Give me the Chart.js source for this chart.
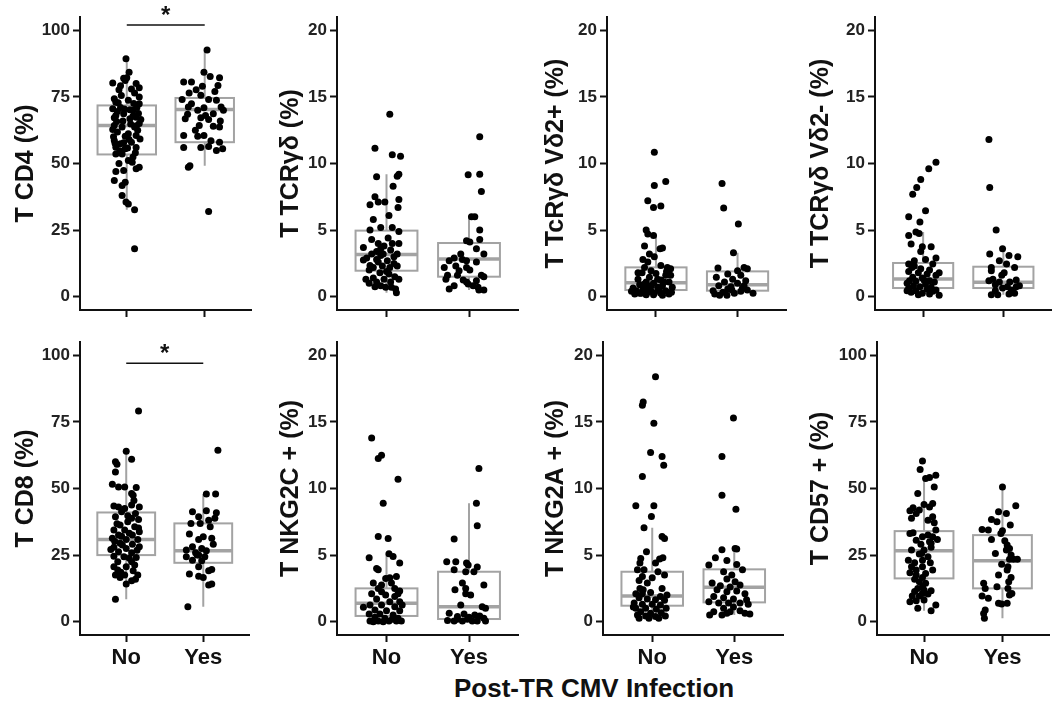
<!DOCTYPE html>
<html>
<head>
<meta charset="utf-8">
<script src="https://cdn.jsdelivr.net/npm/chart.js@4.4.0/dist/chart.umd.min.js"></script>
<style>
  body { margin: 0; background: #fff; width: 1057px; height: 703px; position: relative; overflow: hidden; font-family: "Liberation Sans", Arial, sans-serif; }
  canvas { position: absolute; }
  #x-title { position: absolute; left: 454px; top: 673px; font-weight: bold; font-size: 26px; color: #111; white-space: nowrap; }
</style>
</head>
<body>
<div id="x-title">Post-TR CMV Infection</div>
<script>
// 🔹 categories / ticks
const groups = ["No", "Yes"];
const ticks100 = [0, 25, 50, 75, 100];
const ticks20 = [0, 5, 10, 15, 20];

// 🔹 points: [jitter, value]
const cd4No = [[-0.01,89.3],[0.03,84.3],[-0.18,80.2],[-0.04,82],[0,82.2],[-0.02,81.2],[0.12,80],[0.16,78.4],[-0.10,77.7],[0.06,78],
  [-0.16,74.3],[0.16,75],[-0.14,73],[0.02,73.7],[0.16,72.4],[-0.18,70.6],[-0.08,71],[0.08,70],[-0.14,68],[-0.04,68.7],
  [0.12,67.4],[0.04,66.8],[-0.16,64.3],[-0.06,63.7],[0.10,63.7],[0.16,65],[-0.12,61.8],[0.02,61.2],[0.12,60.5],[-0.16,58.6],
  [-0.08,57.4],[0.06,58],[-0.14,56.1],[-0.02,55.5],[0.12,56],[-0.14,53.6],[-0.06,53.6],[0.08,52.4],[0.02,51.1],[0.16,48.6],
  [0.12,48],[-0.04,47.4],[-0.14,47],[-0.16,43.6],[-0.02,43],[-0.06,41.7],[-0.06,38],[-0.01,35.5],[0.02,34.8],[0.10,32.6],
  [0.10,18],[-0.12,69.5],[0.09,72.5],[-0.05,66],[0.14,62.5],[-0.17,60],[0.03,59],[-0.09,54.8],[0.11,54],[-0.03,70.5],
  [0.05,64.8],[-0.13,65.8],[0.15,68.8],[-0.07,75.5],[0.10,76.5],[-0.15,57.5],[0.07,50.5],[-0.10,50],[0.13,71],[-0.02,60.2],
  [0.08,67.8],[-0.18,62.8],[0.17,59.2],[-0.04,57.8],[0.12,64.2],[-0.08,79.2],[0.04,70.2],[-0.11,72.8],[0.01,55.8],[0.18,66.5],[-0.16,67.2]];
const cd4Yes = [[0.03,92.6],[-0.01,84.3],[0.07,82.7],[0.19,82.2],[-0.27,80.6],[-0.17,80.6],[-0.11,77.7],[0.17,79.3],[-0.05,75.6],[-0.29,74],
  [0.05,74],[-0.17,72.4],[0.15,73.7],[-0.21,71.2],[-0.01,70.9],[-0.09,70],[0.21,71.2],[0.11,68.7],[0.01,68],[-0.05,67.2],
  [-0.25,66.8],[0.05,66.5],[-0.07,64.3],[0.11,64],[0.19,63.7],[-0.27,60.5],[-0.09,60.2],[-0.01,60.5],[-0.27,56],[-0.05,56],
  [0.05,56.4],[0.15,54.9],[0.23,55.5],[0.19,58],[-0.21,48.6],[-0.19,49.2],[0.05,32],[-0.20,76.5],[0.13,77],[0.24,70],
  [-0.12,62.5],[0.08,58.5],[-0.22,68.5],[0.20,66],[-0.03,79]];

const tcrNo = [[0.04,13.7],[-0.14,11.15],[0.07,10.65],[0.17,10.55],[-0.12,9.0],[0.13,9.05],[0.15,9.2],[0.08,8.3],[-0.14,7.5],[0.15,7.3],
  [-0.20,6.9],[-0.10,7.1],[-0.02,7.1],[0.14,6.7],[0.03,6.1],[-0.16,5.8],[-0.07,5.2],[0.07,5.2],[-0.20,5.0],[0.15,4.9],
  [0.02,4.4],[-0.18,4.3],[-0.10,4.0],[0.15,4.0],[-0.28,3.7],[-0.03,3.8],[-0.12,3.4],[0.05,3.5],[-0.18,3.2],[-0.07,3.1],
  [0.09,3.0],[0.13,3.2],[-0.24,2.9],[0.01,2.7],[-0.10,2.6],[0.09,2.5],[-0.16,2.2],[-0.05,2.3],[0.13,2.3],[-0.21,2.0],
  [-0.08,1.8],[0.03,1.7],[0.10,1.5],[-0.16,1.4],[-0.03,1.3],[0.15,1.3],[-0.12,1.1],[-0.21,1.0],[0.05,1.1],[-0.07,0.83],
  [-0.01,0.7],[0.11,0.58],[-0.14,0.75],[0.12,0.3],[-0.28,2.75],[-0.07,3.6],[0.07,4.0],[-0.20,2.35],[0,1.9],[-0.12,2.8],
  [0.04,2.2],[-0.04,3.2],[-0.25,1.3],[0.06,0.7]];
const tcrYes = [[0.13,12.0],[-0.01,9.15],[0.13,9.2],[0.15,7.9],[0.03,6.0],[0.07,6.0],[0.13,5.0],[-0.03,4.2],[0.13,4.3],[0.01,4.1],
  [-0.10,3.2],[0.18,3.2],[0.09,3.6],[-0.18,2.9],[-0.08,2.8],[-0.24,2.7],[-0.03,2.7],[-0.16,2.3],[-0.03,2.2],[-0.30,2.2],
  [0.09,2.6],[0.01,2.0],[-0.26,1.6],[-0.14,1.6],[0.15,1.6],[0.18,1.5],[-0.28,1.3],[-0.07,1.25],[0.09,1.2],[-0.01,0.95],
  [0.05,0.83],[-0.18,0.83],[0.11,0.7],[-0.24,0.58],[0.12,0.5],[0.18,0.5],[-0.03,1.1],[-0.12,1.95]];

const vd2pNo = [[-0.02,10.85],[-0.02,8.35],[0.12,8.65],[-0.10,7.2],[-0.03,6.7],[0.06,6.8],[-0.12,5.0],[-0.10,4.7],[-0.03,4.6],[-0.14,3.8],
  [0.05,3.6],[0.08,3.65],[-0.08,3.2],[-0.02,3.0],[-0.16,2.8],[-0.10,2.6],[0.06,2.35],[0.14,2.2],[0.18,2.1],[-0.14,2.2],
  [-0.06,1.95],[-0.17,1.8],[0,1.75],[0.12,1.6],[-0.08,1.45],[-0.22,1.3],[0.06,1.25],[-0.12,1.1],[0.16,1.1],[-0.03,1.0],
  [-0.20,0.9],[0.08,0.83],[-0.12,0.75],[0.02,0.7],[0.20,0.7],[-0.28,0.65],[-0.16,0.5],[-0.06,0.45],[0.12,0.45],[-0.30,0.4],
  [-0.20,0.25],[-0.02,0.25],[0.16,0.2],[-0.12,0.15],[0.08,0.1],[-0.26,0.2],[0.04,0.5],[-0.10,0.33],[0.10,1.1],[-0.22,1.8],
  [0.18,1.6],[-0.06,0.83],[-0.18,0.25],[0.02,1.3],[0.13,1.9],[-0.14,0.95],[-0.24,0.45],[-0.03,0.15],[0.06,0.25],[0.19,0.33]];
const vd2pYes = [[-0.19,8.5],[-0.17,6.65],[0.01,5.45],[-0.05,3.3],[-0.24,2.15],[0.08,2.2],[0.12,2.1],[0,1.95],[-0.12,1.7],[0.04,1.6],
  [-0.26,1.45],[-0.06,1.3],[0.10,1.2],[-0.16,1.1],[0,1.0],[-0.23,0.83],[-0.08,0.75],[0.06,0.65],[-0.12,0.58],[0.12,0.5],
  [-0.30,0.45],[-0.18,0.33],[-0.04,0.25],[0.19,0.25],[-0.28,0.2],[-0.13,0.1],[0.04,0.4],[-0.22,0.1],[-0.07,0.5],[0.08,0.83]];

const vd2mNo = [[0.16,10.1],[0.07,9.6],[-0.03,8.8],[-0.08,8.2],[-0.13,7.7],[0.03,6.45],[-0.18,6.0],[-0.04,5.6],[-0.09,4.85],[-0.05,4.75],
  [-0.18,4.6],[-0.15,3.95],[-0.01,3.75],[0.10,3.75],[-0.03,3.4],[0.16,2.9],[0.03,2.8],[-0.11,2.7],[-0.18,2.45],[0.12,2.45],
  [-0.14,2.2],[-0.03,2.1],[0.08,2.0],[-0.18,1.9],[-0.06,1.8],[0.05,1.7],[0.16,1.6],[-0.13,1.45],[-0.01,1.4],[-0.17,1.2],
  [-0.09,1.15],[0.08,1.2],[0.14,1.1],[-0.20,1.0],[0.03,0.95],[-0.12,0.83],[-0.04,0.75],[0.10,0.7],[-0.18,0.63],[0.05,0.55],
  [-0.09,0.45],[0.16,0.5],[-0.15,0.33],[-0.01,0.25],[0.08,0.2],[0.20,0.1],[-0.06,0.15],[-0.20,0.45],[0.12,0.4],[0.01,1.25],
  [-0.11,2.3],[0.20,1.8]];
const vd2mYes = [[-0.18,11.8],[-0.17,8.2],[-0.09,5.0],[-0.17,3.2],[-0.01,3.6],[0.07,3.1],[0.18,3.0],[-0.05,2.7],[0.04,2.45],[-0.15,2.2],
  [-0.15,1.95],[0.14,2.2],[0.01,1.8],[-0.02,1.6],[-0.13,1.3],[0.16,1.25],[0.08,1.1],[-0.05,1.1],[-0.10,0.9],[0.05,0.75],
  [0.20,0.83],[-0.01,0.65],[0.10,0.5],[-0.10,0.45],[-0.15,0.15],[-0.07,0.15],[0.07,0.2],[0.14,0.25],[0.16,0.75],[-0.18,1.2]];

const cd8No = [[0.16,79.1],[0,64],[0.07,61],[-0.14,60],[-0.12,59.1],[-0.14,56.2],[-0.18,51.6],[-0.10,50.6],[-0.02,50.6],[0.13,50.4],
  [0.07,48.1],[0.09,47.5],[-0.16,43.4],[-0.10,43.1],[-0.02,42.5],[0.07,43.8],[0.17,43.1],[-0.06,41.3],[0.12,40.6],[-0.14,39.4],
  [0.07,38.8],[0.16,38.4],[0.02,37.5],[-0.08,36.3],[0.11,35.6],[-0.16,34.4],[-0.02,34.4],[0.17,33.8],[-0.10,32.5],[0.08,32.5],
  [-0.18,31.3],[0,30.9],[0.15,30.9],[-0.08,29.4],[0.08,29.1],[-0.16,27.9],[0,27.5],[0.17,28.1],[-0.10,26.3],[0.07,25.9],
  [-0.16,24.6],[-0.03,24.4],[0.13,24.1],[-0.11,22.5],[0.07,22.5],[-0.16,20.6],[0,20.6],[-0.11,19.4],[0.09,19.1],[-0.14,17.5],
  [-0.02,17.5],[0.15,17.5],[-0.08,16.6],[0.07,15.4],[0.12,15.9],[0,14.1],[-0.14,8.4],[-0.06,32.1],[-0.20,27.1],[0.04,23.8],
  [0.10,45.5],[-0.12,36.8],[0.14,26.8],[-0.05,28.8],[0.04,33.2],[-0.15,30.2],[0.11,21.3],[-0.07,18.6],[0.02,39.8],[0.16,35.2]];
const cd8Yes = [[0.19,64.4],[0.04,47.9],[0.16,47.9],[0.04,41.6],[-0.14,41.3],[0.17,40.9],[-0.06,39.4],[0.07,38.1],[-0.16,36.9],[-0.04,36.9],
  [0.15,38.8],[0.09,35.6],[-0.18,32.9],[0,31.9],[0.11,31.3],[-0.06,30.9],[0.13,29.1],[-0.14,28.1],[-0.02,27.5],[-0.22,26.9],
  [0.04,26.6],[-0.10,25.9],[-0.06,25],[-0.22,24.4],[0.02,24.4],[-0.14,23.1],[-0.02,22.9],[-0.06,20.6],[0.07,19.1],[0.11,19.6],
  [-0.18,17.9],[-0.06,17.1],[0,16.6],[0.07,13.8],[0.11,14.1],[-0.08,25],[-0.20,5.6]];

const nkg2cNo = [[-0.18,13.8],[-0.06,12.5],[-0.10,12.25],[0.14,10.7],[-0.04,8.9],[-0.10,6.4],[0.02,6.25],[0.03,5.1],[0.08,4.9],[-0.21,4.8],
  [-0.12,4.0],[-0.10,3.9],[0.16,4.4],[0.12,3.4],[-0.01,3.25],[0.04,3.3],[-0.16,2.9],[-0.06,2.75],[0.10,2.5],[-0.10,2.5],
  [0.16,2.3],[-0.18,2.1],[-0.01,2.0],[0.10,1.9],[-0.12,1.7],[0.04,1.5],[0.16,1.5],[-0.20,1.25],[-0.06,1.25],[0.10,1.13],
  [-0.14,0.88],[0,0.83],[0.16,0.83],[-0.21,0.58],[-0.08,0.58],[0.08,0.5],[-0.14,0.33],[-0.02,0.25],[0.14,0.25],[-0.20,0.05],
  [-0.10,0.05],[0.03,0.05],[0.12,0.05],[0.18,0.05],[-0.04,0],[-0.16,0],[0.07,0.18],[-0.28,1.08],[0.19,1.25],[-0.06,2.25],
  [0.06,2.9],[0.14,2.1]];
const nkg2cYes = [[0.12,11.5],[0.09,8.9],[0.10,7.2],[-0.18,6.2],[-0.27,4.5],[-0.16,4.5],[-0.03,4.4],[-0.01,4.25],[0.10,4.1],[-0.18,3.9],
  [-0.04,3.75],[0.06,3.75],[0.18,2.75],[-0.08,2.9],[-0.17,2.4],[-0.04,2.5],[-0.04,2.1],[0.02,2.0],[-0.10,1.25],[0.16,1.13],
  [0.20,1.0],[-0.24,0.63],[-0.06,0.58],[0.07,0.5],[0.13,0.43],[-0.14,0.38],[0,0.33],[0.18,0.25],[-0.26,0.08],[-0.18,0.05],
  [-0.08,0.05],[0.04,0.05],[0.10,0.05],[0.20,0.05],[-0.02,0.18],[-0.14,0.18]];

const nkg2aNo = [[0.04,18.4],[-0.11,16.5],[-0.12,16.25],[0.02,14.9],[-0.02,12.7],[0.12,12.4],[0.14,11.75],[-0.12,10.9],[-0.20,8.7],[0.02,8.7],
  [-0.01,7.9],[-0.10,7.05],[0.12,6.4],[0.15,6.25],[-0.07,5.25],[-0.14,4.75],[0.13,4.8],[0.09,4.7],[-0.15,4.4],[0.04,4.4],
  [-0.10,3.9],[-0.18,3.9],[0.15,3.5],[0.07,3.75],[-0.12,3.4],[0,3.3],[-0.16,3.1],[-0.06,2.9],[-0.15,2.5],[0.12,2.5],
  [-0.11,2.4],[-0.20,2.1],[-0.02,2.2],[0.10,1.9],[-0.16,1.8],[-0.06,1.7],[0.04,1.65],[0.15,1.6],[-0.22,1.4],[-0.12,1.3],
  [0,1.3],[0.10,1.25],[-0.20,1.0],[-0.08,1.0],[0.05,0.93],[0.17,1.0],[-0.14,0.75],[-0.02,0.63],[0.11,0.68],[-0.18,0.5],
  [-0.08,0.43],[0.04,0.38],[0.16,0.43],[-0.16,0.25],[-0.04,0.25],[0.08,0.25],[-0.12,2.1],[-0.23,1.1],[0.18,2.0]];
const nkg2aYes = [[-0.01,15.3],[-0.15,12.4],[-0.15,9.5],[0.02,8.45],[0.01,5.5],[-0.15,5.4],[0.03,5.45],[-0.23,4.8],[-0.09,4.6],[-0.31,4.25],
  [0.03,4.3],[0.10,3.9],[-0.13,3.75],[-0.03,3.5],[-0.09,3.2],[0.01,3.0],[-0.27,2.9],[-0.17,2.7],[-0.05,2.6],[0.07,2.75],
  [-0.21,2.4],[-0.09,2.25],[0.03,2.3],[0.13,2.1],[-0.25,1.9],[-0.13,1.8],[-0.01,1.7],[0.15,1.65],[-0.31,1.5],[-0.19,1.4],
  [-0.07,1.4],[0.07,1.4],[0.17,1.3],[-0.13,1.0],[-0.01,1.1],[-0.25,0.75],[-0.09,0.63],[0.13,0.63],[0.07,0.83],[-0.30,0.5],
  [-0.15,0.5],[0.19,0.58],[-0.05,0.75]];

const cd57No = [[-0.02,60.3],[-0.05,57.1],[0.02,53.8],[0.07,54.1],[0.15,55],[-0.08,48.1],[0.13,50.6],[0,44],[0.11,44.4],[-0.14,42.8],
  [-0.18,41.6],[-0.06,41.9],[0.07,43.1],[-0.10,40.6],[0.11,39.4],[-0.16,38.8],[0.05,38.1],[0.13,37.1],[0.15,34.4],[-0.18,33.1],
  [-0.14,33.4],[0.05,32.5],[-0.02,31.9],[0.11,31.9],[0.17,30.9],[-0.10,30.6],[0.07,30],[-0.04,29.1],[0.09,27.9],[-0.16,26.9],
  [0,26.9],[-0.06,25.4],[0.05,24.4],[-0.20,23.1],[-0.02,23.1],[-0.12,22.1],[0.08,22.1],[-0.16,20.6],[-0.02,20.6],[-0.18,18.4],
  [0.11,19.4],[-0.10,17.5],[-0.02,16.6],[-0.12,15.9],[-0.06,15],[0.02,14.4],[-0.02,13.1],[-0.08,12.5],[0,11.9],[0.09,11.6],
  [-0.12,11.3],[-0.02,10.6],[0.05,10.4],[-0.06,9.6],[-0.15,9.6],[-0.10,7.9],[0,8.1],[-0.18,7.5],[0.15,6.25],[-0.08,5],
  [0.09,4.1],[-0.03,25.6],[0.09,29.4],[-0.10,19.4],[0.02,18.1]];
const cd57Yes = [[0,50.6],[0.17,43.5],[-0.05,41.3],[0.05,40.6],[-0.14,38.4],[-0.07,37.5],[0.10,36.3],[-0.26,34.6],[-0.18,34.4],[0,34.1],
  [-0.02,33.1],[-0.14,30.9],[0.03,30.4],[0.06,28.8],[0.09,27.5],[0.05,26.9],[-0.09,25.6],[0.11,25],[0.09,23.4],[0.14,23.4],
  [0.19,23.4],[-0.01,21.6],[0.07,20.6],[0.06,19.4],[-0.05,17.5],[0.11,16.6],[0.08,15],[-0.24,14.4],[-0.07,13.1],[0.07,12.5],
  [-0.22,12.5],[0.12,10.6],[-0.26,9.6],[-0.18,8.8],[0.06,6.9],[-0.01,6.6],[-0.05,6.9],[-0.22,4.4],[-0.24,3.1],[-0.23,1.25],[0.09,10]];

// 🔹 box stats: [lower whisker, q1, median, q3, upper whisker]
const cd4Box = [[32.6, 53.4, 64.3, 71.8, 89.3], [49.2, 58, 70.3, 74.6, 92.6]];
const tcrBox = [[0.3, 1.95, 3.16, 4.96, 9.2], [0.5, 1.5, 2.83, 4.03, 6.0]];
const vd2pBox = [[0.1, 0.5, 1.05, 2.2, 4.6], [0.1, 0.45, 0.9, 1.9, 3.3]];
const vd2mBox = [[0.1, 0.65, 1.33, 2.53, 4.85], [0.15, 0.65, 1.08, 2.25, 3.6]];
const cd8Box = [[8.4, 25, 30.9, 41, 64], [5.6, 22.1, 26.6, 36.9, 47.9]];
const nkg2cBox = [[0, 0.43, 1.38, 2.5, 5.1], [0, 0.2, 1.13, 3.75, 8.9]];
const nkg2aBox = [[0.25, 1.2, 1.93, 3.75, 7.05], [0.5, 1.45, 2.58, 3.93, 5.5]];
const cd57Box = [[4.1, 16.25, 26.6, 34, 53.5], [1.25, 12.5, 22.9, 32.5, 50.6]];

// 🔹 significance bars (value of the bar line), null = none
const cd4Sig = 102;
const cd8Sig = 97;

// 🔹 panel layout
const panels = [
  { title: "T CD4 (%)", no: cd4No, yes: cd4Yes, box: cd4Box, sig: cd4Sig, ticks: ticks100, left: 0, top: 0, w: 255, row: 0, yW: 80 },
  { title: "T TCRγδ (%)", no: tcrNo, yes: tcrYes, box: tcrBox, sig: null, ticks: ticks20, left: 265, top: 0, w: 257, row: 0, yW: 72 },
  { title: "T TcRγδ Vδ2+ (%)", no: vd2pNo, yes: vd2pYes, box: vd2pBox, sig: null, ticks: ticks20, left: 530, top: 0, w: 260, row: 0, yW: 77 },
  { title: "T TCRγδ Vδ2- (%)", no: vd2mNo, yes: vd2mYes, box: vd2mBox, sig: null, ticks: ticks20, left: 795, top: 0, w: 260, row: 0, yW: 80 },
  { title: "T CD8 (%)", no: cd8No, yes: cd8Yes, box: cd8Box, sig: cd8Sig, ticks: ticks100, left: 0, top: 325, w: 253, row: 1, yW: 80 },
  { title: "T NKG2C + (%)", no: nkg2cNo, yes: nkg2cYes, box: nkg2cBox, sig: null, ticks: ticks20, left: 265, top: 325, w: 257, row: 1, yW: 72 },
  { title: "T NKG2A + (%)", no: nkg2aNo, yes: nkg2aYes, box: nkg2aBox, sig: null, ticks: ticks20, left: 530, top: 325, w: 257, row: 1, yW: 73 },
  { title: "T CD57 + (%)", no: cd57No, yes: cd57Yes, box: cd57Box, sig: null, ticks: ticks100, left: 795, top: 325, w: 258, row: 1, yW: 82 }
];

const BOX_W = 0.75;
const GREY = "#a3a3a3";
const FONT = "'Liberation Sans', Arial, sans-serif";

// 🔹 box plot drawn under the points
const boxPlugin = {
  id: "boxPlot",
  beforeDatasetsDraw(chart, args, opts) {
    const { ctx } = chart;
    const xs = chart.scales.x, ys = chart.scales.y;
    ctx.save();
    ctx.strokeStyle = GREY;
    opts.stats.forEach((s, i) => {
      const c = i + 1;
      const x0 = xs.getPixelForValue(c - BOX_W / 2);
      const x1 = xs.getPixelForValue(c + BOX_W / 2);
      const xc = xs.getPixelForValue(c);
      const [lo, q1, med, q3, hi] = s.map(v => ys.getPixelForValue(v));
      ctx.lineWidth = 2;
      ctx.beginPath();
      ctx.moveTo(xc, lo); ctx.lineTo(xc, q1);
      ctx.moveTo(xc, q3); ctx.lineTo(xc, hi);
      ctx.stroke();
      ctx.strokeRect(x0, q3, x1 - x0, q1 - q3);
      ctx.lineWidth = 3.5;
      ctx.beginPath();
      ctx.moveTo(x0, med); ctx.lineTo(x1, med);
      ctx.stroke();
    });
    ctx.restore();
  }
};

// 🔹 significance bar with asterisk
const sigPlugin = {
  id: "sigBar",
  afterDatasetsDraw(chart, args, opts) {
    if (opts.value == null) return;
    const { ctx } = chart;
    const xs = chart.scales.x, ys = chart.scales.y;
    const y = ys.getPixelForValue(opts.value);
    ctx.save();
    ctx.strokeStyle = "#111";
    ctx.lineWidth = 1.5;
    ctx.beginPath();
    ctx.moveTo(xs.getPixelForValue(1), y);
    ctx.lineTo(xs.getPixelForValue(2), y);
    ctx.stroke();
    ctx.fillStyle = "#111";
    ctx.font = "bold 24px " + FONT;
    ctx.textAlign = "center";
    ctx.textBaseline = "middle";
    ctx.fillText("*", xs.getPixelForValue(1.5), y - 9);
    ctx.restore();
  }
};

function makePanel(p) {
  const canvas = document.createElement("canvas");
  const h = p.row === 0 ? 340 : 378;
  canvas.width = p.w;
  canvas.height = h;
  canvas.style.left = p.left + "px";
  canvas.style.top = p.top + "px";
  document.body.appendChild(canvas);

  const padTop = 17;
  const xH = h - padTop - 293;
  const is100 = p.ticks === ticks100;

  new Chart(canvas, {
    type: "scatter",
    data: {
      datasets: [p.no, p.yes].map((pts, i) => ({
        data: pts.map(([j, v]) => ({ x: i + 1 + j, y: v })),
        backgroundColor: "#000",
        borderWidth: 0,
        pointRadius: 3.5,
        pointHoverRadius: 3.5
      }))
    },
    options: {
      responsive: false,
      animation: false,
      events: [],
      layout: { padding: { top: padTop, left: 0, right: 0, bottom: 0 } },
      plugins: {
        legend: { display: false },
        tooltip: { enabled: false },
        boxPlot: { stats: p.box },
        sigBar: { value: p.sig }
      },
      scales: {
        x: {
          type: "linear",
          min: 0.4,
          max: 2.6,
          afterBuildTicks: s => { s.ticks = [{ value: 1 }, { value: 2 }]; },
          afterFit: s => { s.height = xH; },
          ticks: {
            callback: v => (p.row === 1 ? groups[v - 1] : ""),
            color: "#111",
            font: { family: FONT, size: 22, weight: "bold" },
            padding: 3,
            maxRotation: 0,
            autoSkip: false
          },
          grid: { drawOnChartArea: false, drawTicks: true, tickLength: 7, tickColor: "#111", tickWidth: 2 },
          border: { display: true, color: "#111", width: 2 }
        },
        y: {
          min: is100 ? -5 : -1,
          max: is100 ? 105 : 21,
          afterBuildTicks: s => { s.ticks = p.ticks.map(v => ({ value: v })); },
          afterFit: s => { s.width = p.yW; },
          ticks: {
            color: "#222",
            font: { family: FONT, size: 17, weight: "bold" },
            padding: 3
          },
          grid: { drawOnChartArea: false, drawTicks: true, tickLength: 7, tickColor: "#111", tickWidth: 2 },
          border: { display: true, color: "#111", width: 2 },
          title: {
            display: true,
            text: p.title,
            color: "#111",
            font: { family: FONT, size: 25, weight: "bold" },
            padding: { top: 11, bottom: 0 }
          }
        }
      }
    },
    plugins: [boxPlugin, sigPlugin]
  });
}

panels.forEach(makePanel);
</script>
</body>
</html>
